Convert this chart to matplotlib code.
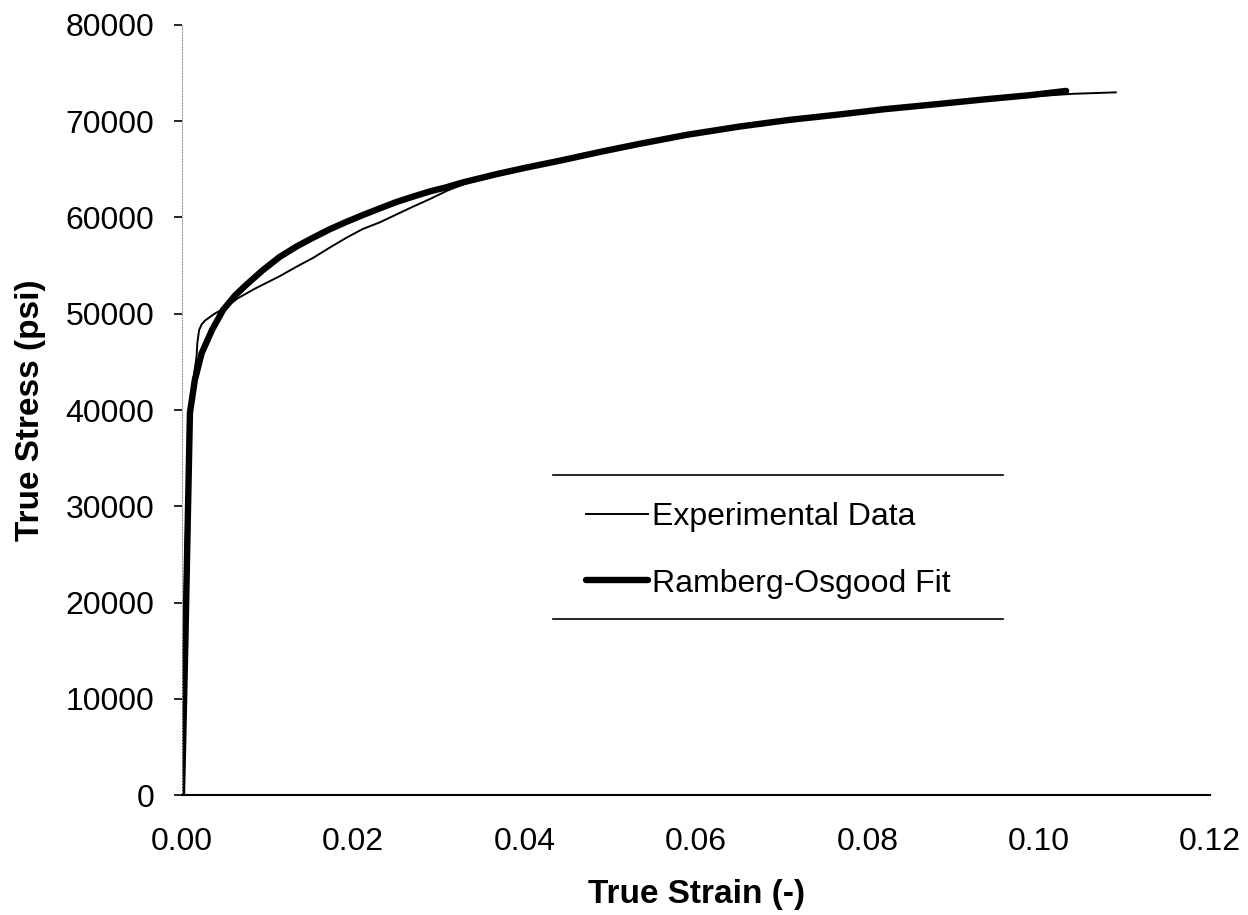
import matplotlib
matplotlib.use('Agg')
import matplotlib.pyplot as plt
from matplotlib.lines import Line2D

plt.rcParams['font.family'] = ['Liberation Sans', 'DejaVu Sans']

exp_strain = [0.0, 0.0001, 0.0002, 0.0004, 0.0007, 0.0009, 0.0012, 0.0015, 0.0017,
              0.0018, 0.0020, 0.0023, 0.0027, 0.0038, 0.0050, 0.0065, 0.0085, 0.0114, 0.0134,
              0.0153, 0.0173, 0.0192, 0.0211, 0.0231, 0.0250, 0.0269, 0.0289,
              0.0310, 0.0330, 0.0367, 0.0400, 0.0441, 0.0490, 0.0534, 0.0590,
              0.0651, 0.0710, 0.0767, 0.0820, 0.0884, 0.0940, 0.0989, 0.1040,
              0.1090]
exp_stress = [0, 8000, 15000, 25400, 35000, 39000, 42500, 44300, 45500,
              47000, 48300, 48900, 49300, 50000, 50600, 51600, 52600, 53900, 54900,
              55800, 56900, 57900, 58800, 59500, 60300, 61100, 61900,
              62800, 63500, 64400, 65100, 65850, 66800, 67600, 68600,
              69400, 70100, 70600, 71150, 71700, 72200, 72550, 72850,
              73000]

# Ramberg-Osgood fit
fit_strain = [0.0, 0.0002, 0.0004, 0.0006, 0.00093, 0.0015, 0.0023, 0.0035, 0.0048,
              0.0062, 0.0075, 0.0094, 0.0114, 0.0134, 0.0153, 0.0173, 0.0192,
              0.0211, 0.0231, 0.0250, 0.0269, 0.0289, 0.0309, 0.0328, 0.0367,
              0.0400, 0.0441, 0.0490, 0.0534, 0.0590, 0.0651, 0.0710, 0.0767,
              0.0820, 0.0884, 0.0940, 0.0989, 0.1032]
fit_stress = [0, 8000, 16000, 25000, 39700, 43100, 45900, 48300, 50400,
              51900, 53000, 54500, 55900, 57000, 57900, 58800, 59550,
              60250, 60950, 61600, 62150, 62700, 63150, 63650, 64500,
              65150, 65900, 66850, 67650, 68600, 69450, 70150, 70700,
              71250, 71800, 72300, 72700, 73150]

x_ticks = [0.00, 0.02, 0.04, 0.06, 0.08, 0.10, 0.12]
y_ticks = [0, 10000, 20000, 30000, 40000, 50000, 60000, 70000, 80000]

fig = plt.figure(figsize=(12.48, 9.15), dpi=100)
ax = fig.add_axes([0.1458, 0.1311, 0.8238, 0.8416])

ax.plot(fit_strain, fit_stress, color='black', linewidth=4.6,
        solid_capstyle='round', solid_joinstyle='round')
ax.plot(exp_strain, exp_stress, color='black', linewidth=1.4,
        solid_joinstyle='round')

ax.set_xlim(0, 0.12)
ax.set_ylim(0, 80000)
ax.set_xticks(x_ticks)
ax.set_xticklabels(['%.2f' % v for v in x_ticks])
ax.set_yticks(y_ticks)
ax.set_yticklabels([str(v) for v in y_ticks])

ax.tick_params(axis='x', length=0, pad=23, labelsize=23)
ax.tick_params(axis='y', length=6, width=1.2, pad=14, labelsize=23, direction='out')

ax.spines['top'].set_visible(False)
ax.spines['right'].set_visible(False)
ax.spines['bottom'].set_linewidth(1.5)
ax.spines['left'].set_color('0.6')
ax.spines['left'].set_linewidth(0.8)
ax.spines['left'].set_linestyle(':')

ax.set_xlabel('True Strain (-)', fontsize=24, fontweight='bold', labelpad=16)
ax.set_ylabel('True Stress (psi)', fontsize=24, fontweight='bold', labelpad=14)

# legend with only top and bottom rules
handles = [Line2D([], [], color='black', linewidth=1.4),
           Line2D([], [], color='black', linewidth=4.6, solid_capstyle='round')]
leg = ax.legend(handles, ['Experimental Data', 'Ramberg-Osgood Fit'],
                loc='center left', bbox_to_anchor=(0.393, 0.318),
                frameon=False, fontsize=23, handlelength=1.95,
                handletextpad=0.12, labelspacing=1.15, borderpad=0,
                borderaxespad=0)
for yy in (0.4156, 0.2286):
    ax.add_line(Line2D([0.361, 0.799], [yy, yy], transform=ax.transAxes,
                       color='black', linewidth=1.2, clip_on=False))

fig.savefig('out.png', dpi=100)
